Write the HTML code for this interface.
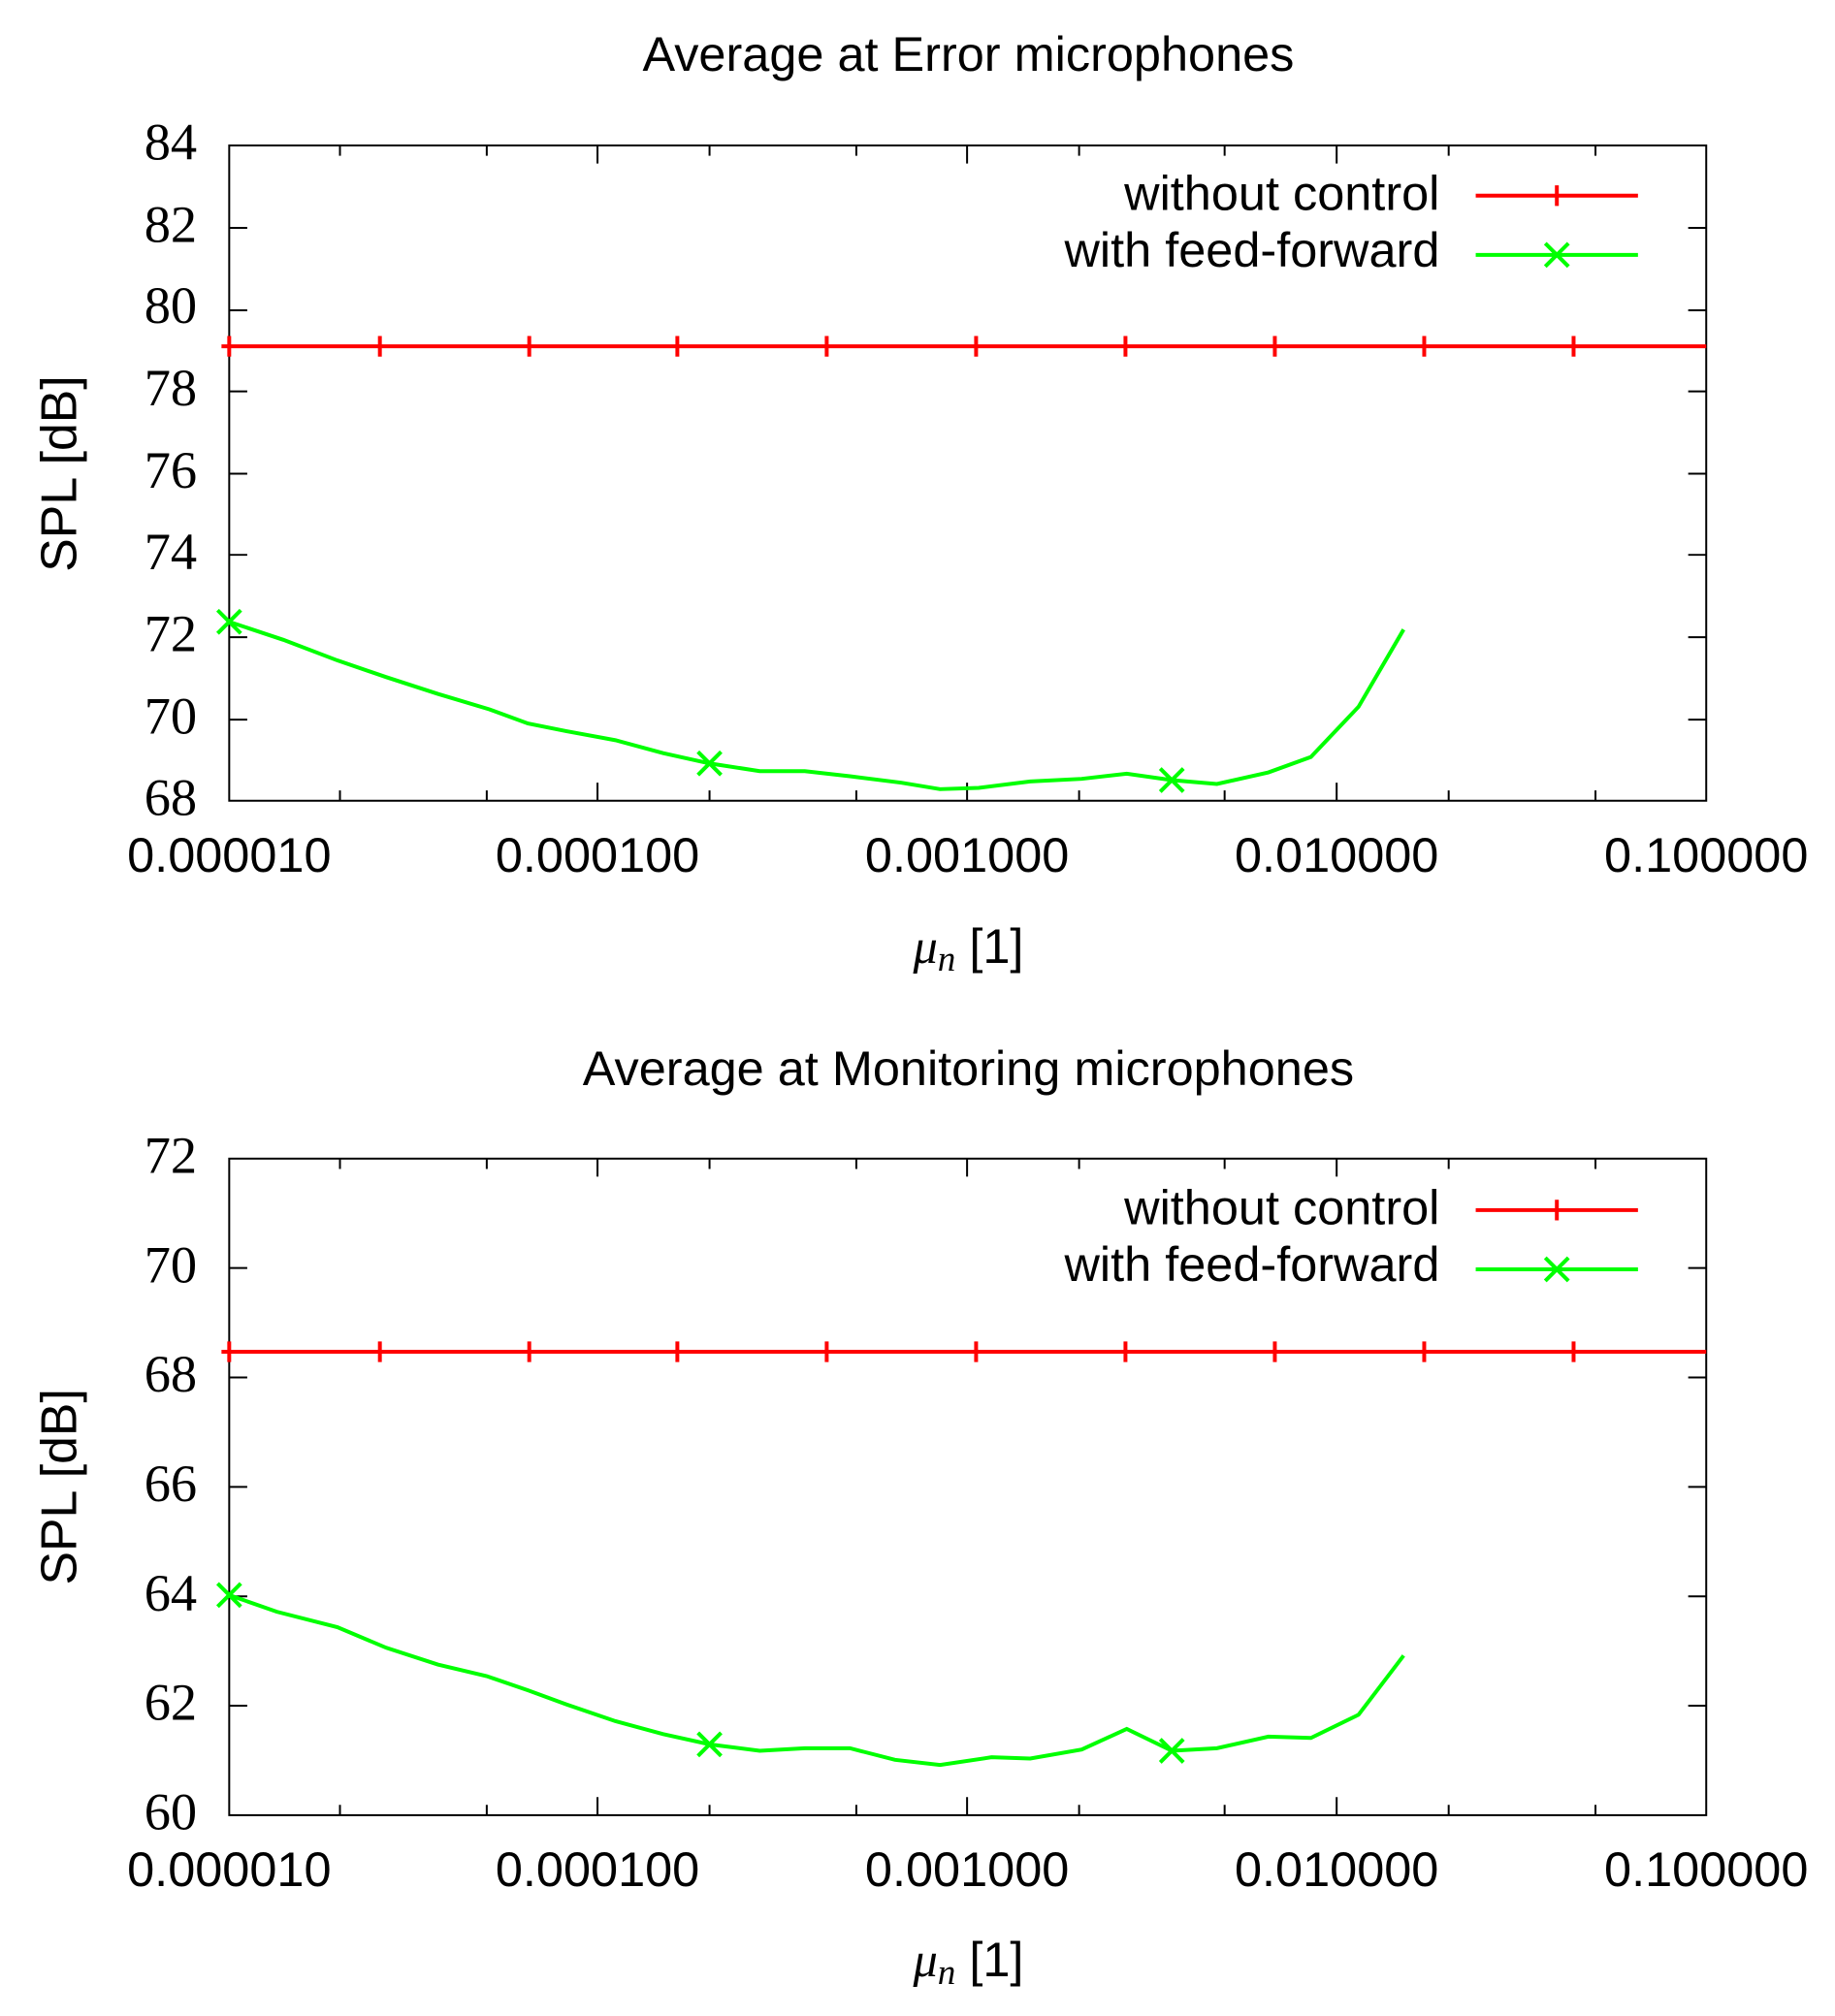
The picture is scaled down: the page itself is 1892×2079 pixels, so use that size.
<!DOCTYPE html>
<html><head><meta charset="utf-8"><style>html,body{margin:0;padding:0;background:#fff}svg{display:block}</style></head>
<body>
<svg width="1892" height="2079" viewBox="0 0 1425 1566" preserveAspectRatio="none" xmlns="http://www.w3.org/2000/svg">
<rect width="1425" height="1566" fill="#fff"/>
<defs>
<g id="xticks">
<path d="M264,0v8M378,0v8M551,0v8M665,0v8M838,0v8M951,0v8M1125,0v8M1239,0v8M464,0v14M751,0v14M1038,0v14" stroke="#000" stroke-width="1.5"/>
</g>
</defs>

<!-- Plot 1 -->
<g font-family="Liberation Sans, sans-serif" fill="#000">
<text x="752" y="55" font-size="38" text-anchor="middle">Average at Error microphones</text>
<text transform="translate(59,368) rotate(-90)" font-size="39" text-anchor="middle">SPL [dB]</text>
<text x="752" y="748" font-size="38" text-anchor="middle"><tspan font-family="Liberation Serif, serif" font-style="italic">μ</tspan><tspan font-family="Liberation Serif, serif" font-style="italic" font-size="28" dy="6">n</tspan><tspan dy="-6"> [1]</tspan></text>
<g font-size="38" text-anchor="middle">
<text x="178" y="677">0.000010</text><text x="464" y="677">0.000100</text><text x="751" y="677">0.001000</text><text x="1038" y="677">0.010000</text><text x="1325" y="677">0.100000</text>
</g>
<g font-family="Liberation Serif, serif" font-size="41" text-anchor="end">
<text x="153" y="124">84</text><text x="153" y="188">82</text><text x="153" y="251">80</text><text x="153" y="315">78</text><text x="153" y="379">76</text><text x="153" y="442">74</text><text x="153" y="506">72</text><text x="153" y="570">70</text><text x="153" y="633">68</text>
</g>
<g font-size="38" text-anchor="end"><text x="1118" y="163">without control</text><text x="1118" y="207">with feed-forward</text></g>
</g>
<rect x="178" y="113" width="1147" height="509" fill="none" stroke="#000" stroke-width="1.5"/>
<g transform="translate(0,113)"><use href="#xticks"/></g>
<g transform="translate(0,622) scale(1,-1)"><use href="#xticks"/></g>
<path d="M178,177h14M178,241h14M178,304h14M178,368h14M178,431h14M178,495h14M178,559h14M1325,177h-14M1325,241h-14M1325,304h-14M1325,368h-14M1325,431h-14M1325,495h-14M1325,559h-14" stroke="#000" stroke-width="1.5"/>
<path d="M172,269H1325" stroke="#f00" stroke-width="3"/>
<path d="M178,261v16M295,261v16M411,261v16M526,261v16M642,261v16M758,261v16M874,261v16M990,261v16M1106,261v16M1222,261v16" stroke="#f00" stroke-width="3"/>
<path d="M1146,152h126M1209,144v16" stroke="#f00" stroke-width="3"/>
<polyline fill="none" stroke="#0f0" stroke-width="3" points="178,483 220,497 262,513 300,526 340,539 380,551 410,562 440,568 478,575 515,585 551,593 590,599 625,599 660,603 700,608 730,613 760,612 800,607 840,605 875,601 910,606 945,609 985,600 1018,588 1055,549 1090,489"/>
<path d="M169,474l18,18M187,474l-18,18M542,584l18,18M560,584l-18,18M901,597l18,18M919,597l-18,18" stroke="#0f0" stroke-width="3"/>
<path d="M1146,198h126M1200,189l18,18M1218,189l-18,18" stroke="#0f0" stroke-width="3"/>

<!-- Plot 2 -->
<g font-family="Liberation Sans, sans-serif" fill="#000">
<text x="752" y="843" font-size="38" text-anchor="middle">Average at Monitoring microphones</text>
<text transform="translate(59,1155) rotate(-90)" font-size="39" text-anchor="middle">SPL [dB]</text>
<text x="752" y="1535" font-size="38" text-anchor="middle"><tspan font-family="Liberation Serif, serif" font-style="italic">μ</tspan><tspan font-family="Liberation Serif, serif" font-style="italic" font-size="28" dy="6">n</tspan><tspan dy="-6"> [1]</tspan></text>
<g font-size="38" text-anchor="middle">
<text x="178" y="1465">0.000010</text><text x="464" y="1465">0.000100</text><text x="751" y="1465">0.001000</text><text x="1038" y="1465">0.010000</text><text x="1325" y="1465">0.100000</text>
</g>
<g font-family="Liberation Serif, serif" font-size="41" text-anchor="end">
<text x="153" y="911">72</text><text x="153" y="996">70</text><text x="153" y="1081">68</text><text x="153" y="1166">66</text><text x="153" y="1251">64</text><text x="153" y="1336">62</text><text x="153" y="1421">60</text>
</g>
<g font-size="38" text-anchor="end"><text x="1118" y="951">without control</text><text x="1118" y="995">with feed-forward</text></g>
</g>
<rect x="178" y="900" width="1147" height="510" fill="none" stroke="#000" stroke-width="1.5"/>
<g transform="translate(0,900)"><use href="#xticks"/></g>
<g transform="translate(0,1410) scale(1,-1)"><use href="#xticks"/></g>
<path d="M178,985h14M178,1070h14M178,1155h14M178,1240h14M178,1325h14M1325,985h-14M1325,1070h-14M1325,1155h-14M1325,1240h-14M1325,1325h-14" stroke="#000" stroke-width="1.5"/>
<path d="M172,1050H1325" stroke="#f00" stroke-width="3"/>
<path d="M178,1042v16M295,1042v16M411,1042v16M526,1042v16M642,1042v16M758,1042v16M874,1042v16M990,1042v16M1106,1042v16M1222,1042v16" stroke="#f00" stroke-width="3"/>
<path d="M1146,940h126M1209,932v16" stroke="#f00" stroke-width="3"/>
<polyline fill="none" stroke="#0f0" stroke-width="3" points="178,1239 215,1252 262,1264 300,1280 340,1293 378,1302 410,1313 440,1324 478,1337 515,1347 551,1355 590,1360 625,1358 660,1358 695,1367 730,1371 770,1365 800,1366 840,1359 875,1343 910,1360 945,1358 985,1349 1018,1350 1055,1332 1090,1286"/>
<path d="M169,1230l18,18M187,1230l-18,18M542,1346l18,18M560,1346l-18,18M901,1351l18,18M919,1351l-18,18" stroke="#0f0" stroke-width="3"/>
<path d="M1146,986h126M1200,977l18,18M1218,977l-18,18" stroke="#0f0" stroke-width="3"/>
</svg>
</body></html>
